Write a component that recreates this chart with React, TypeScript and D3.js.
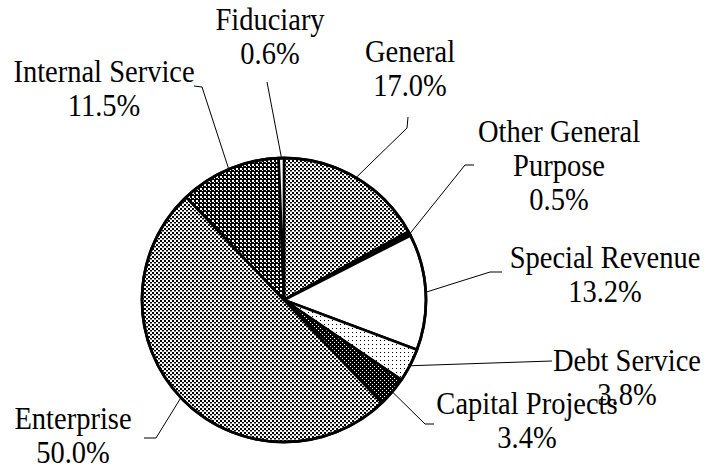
import React from "react";
import * as d3 from "d3";

const categories = [
  "General",
  "Other General Purpose",
  "Special Revenue",
  "Debt Service",
  "Capital Projects",
  "Enterprise",
  "Internal Service",
  "Fiduciary",
];
const shares = [17.0, 0.5, 13.2, 3.8, 3.4, 50.0, 11.5, 0.6];
const nameLines = [
  ["General"],
  ["Other General", "Purpose"],
  ["Special Revenue"],
  ["Debt Service"],
  ["Capital Projects"],
  ["Enterprise"],
  ["Internal Service"],
  ["Fiduciary"],
];
const patterns = ["pGeneral", "black", "white", "pDebt", "pCapital", "pEnterprise", "pInternal", "white"];

// label layout (annotation positions)
const labelLayout: { x: number; y: number; leader: [number, number][] }[] = [
  { x: 410, y: 62, leader: [[408, 117], [407, 128]] },
  { x: 559, y: 142, leader: [[474, 165], [465, 165]] },
  { x: 605, y: 268, leader: [[502, 272], [490, 272]] },
  { x: 627, y: 371, leader: [[552, 361]] },
  { x: 527, y: 414, leader: [[434, 424], [425, 424]] },
  { x: 73, y: 429, leader: [[144, 438], [156, 438]] },
  { x: 104, y: 82, leader: [[194, 86], [202, 87]] },
  { x: 270, y: 30, leader: [[267, 82]] },
];

const W = 704;
const H = 470;
const cx = 284;
const cy = 300;
const R = 142;
const lineGap = 34;
const fontSize = 31;
const squeeze = 0.92;
const fmt = (v: number) => d3.format(".1f")(v) + "%";

export default function App() {
  const data = categories.map((c, i) => ({ name: c, value: shares[i], i }));
  const pie = d3.pie<any>().value((d) => d.value).sort(null);
  const arcs = pie(data);
  const arc = d3.arc<any>().innerRadius(0).outerRadius(R);

  return (
    <svg
      width={W}
      height={H}
      style={{ position: "absolute", left: 0, top: 0, background: "#fff" }}
    >
      <defs>
        <pattern id="pGeneral" width={4} height={4} patternUnits="userSpaceOnUse">
          <rect width={4} height={4} fill="#fff" />
          <rect x={0} y={0} width={2} height={2} fill="#000" />
          <rect x={2} y={2} width={2} height={1.5} fill="#000" />
        </pattern>
        <pattern id="pEnterprise" width={4} height={4} patternUnits="userSpaceOnUse">
          <rect width={4} height={4} fill="#fff" />
          <rect x={0} y={0} width={2} height={2} fill="#000" />
          <rect x={2} y={2} width={2} height={1.5} fill="#000" />
        </pattern>
        <pattern id="pInternal" width={4} height={4} patternUnits="userSpaceOnUse">
          <rect width={4} height={4} fill="#000" />
          <rect x={0} y={0} width={2} height={2} fill="#fff" />
          <rect x={2} y={2} width={1} height={1} fill="#fff" />
        </pattern>
        <pattern id="pCapital" width={4} height={4} patternUnits="userSpaceOnUse">
          <rect width={4} height={4} fill="#000" />
          <rect x={0} y={0} width={1} height={1} fill="#fff" />
          <rect x={2} y={2} width={1} height={1} fill="#fff" />
        </pattern>
        <pattern id="pDebt" width={4} height={4} patternUnits="userSpaceOnUse">
          <rect width={4} height={4} fill="#fff" />
          <rect x={0} y={0} width={1} height={1} fill="#000" />
        </pattern>
      </defs>
      <g transform={`translate(${cx},${cy})`}>
        {arcs.map((a, k) => {
          const p = patterns[k];
          const fill = p === "black" ? "#000" : p === "white" ? "#fff" : `url(#${p})`;
          return (
            <path
              key={k}
              d={arc(a) as string}
              fill={fill}
              stroke="#000"
              strokeWidth={2.6}
              strokeLinejoin="round"
            />
          );
        })}
        <circle r={R} fill="none" stroke="#000" strokeWidth={2.8} />
      </g>
      {arcs.map((a, k) => {
        const mid = (a.startAngle + a.endAngle) / 2;
        const px = cx + Math.sin(mid) * (R + 1);
        const py = cy - Math.cos(mid) * (R + 1);
        const pts: [number, number][] = [...labelLayout[k].leader, [px, py]];
        const line = d3.line()(pts) as string;
        return <path key={"l" + k} d={line} fill="none" stroke="#000" strokeWidth={1} />;
      })}
      {arcs.map((a, k) => {
        const L = labelLayout[k];
        const lines = [...nameLines[k], fmt(shares[k])];
        return (
          <g key={"t" + k} transform={`translate(${L.x},0) scale(${squeeze},1)`}>
            <text
              x={0}
              y={L.y}
              textAnchor="middle"
              style={{ fontFamily: "'Liberation Serif', 'Times New Roman', serif", fontSize: `${fontSize}px` }}
              fill="#000"
            >
              {lines.map((t, j) => (
                <tspan key={j} x={0} y={L.y + j * lineGap}>
                  {t}
                </tspan>
              ))}
            </text>
          </g>
        );
      })}
    </svg>
  );
}
